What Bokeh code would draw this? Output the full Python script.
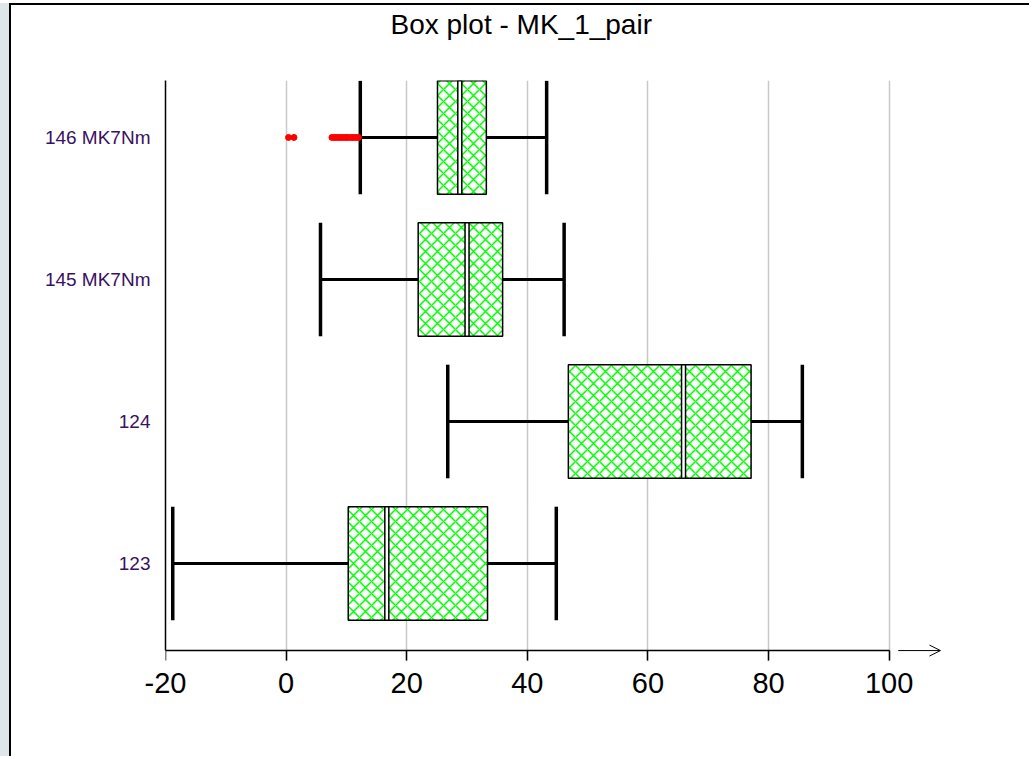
from bokeh.plotting import figure
from bokeh.models import FixedTicker, Arrow, OpenHead, ColumnDataSource, LinearAxis
from bokeh.embed import file_html
from bokeh.resources import INLINE

# ---- data ----
categories = ["123", "124", "145 MK7Nm", "146 MK7Nm"]
positions = [1, 2, 3, 4]
whisker_low = [-18.8, 26.8, 5.7, 12.3]
q1 = [10.3, 46.8, 21.9, 25.1]
median = [16.7, 65.9, 30.0, 28.8]
q3 = [33.4, 77.1, 35.9, 33.2]
whisker_high = [44.8, 85.6, 46.1, 43.2]
outlier_values = [0.4, 1.3, 7.6, 8.0, 8.3, 8.7, 9.0, 9.4, 9.8, 10.1, 10.5, 10.9, 11.2, 11.6, 12.0]
outlier_group = [4] * len(outlier_values)
x_ticks = [-20, 0, 20, 40, 60, 80, 100]
x_tick_labels = {t: str(t) for t in x_ticks}
title_text = "Box plot - MK_1_pair"

FONT = "Liberation Sans"
BOX_H = 0.8
Y_AXIS_POS = 0.387
Y_TOP = 4.401

src = ColumnDataSource(dict(
    pos=positions, lo=whisker_low, q1=q1, med=median, q3=q3, hi=whisker_high,
    cap_top=[p + BOX_H / 2 for p in positions],
    cap_bot=[p - BOX_H / 2 for p in positions],
))
out_src = ColumnDataSource(dict(x=outlier_values, y=outlier_group))

p = figure(width=1020, height=753, output_backend="svg", toolbar_location=None,
           x_range=(-20, 110), y_range=(0.31, Y_TOP),
           min_border_left=154, min_border_right=82, min_border_top=75,
           min_border_bottom=97, title=title_text)
p.outline_line_color = None
p.background_fill_color = "white"
p.border_fill_color = "white"

p.title.align = "left"
p.title.offset = 225
p.title.text_font = FONT
p.title.text_font_size = "28px"
p.title.text_font_style = "normal"
p.title.text_color = "black"
p.title.standoff = 0
p.title.padding = dict(left=0, right=0, top=0, bottom=41)

# whiskers
p.segment(x0="lo", y0="pos", x1="q1", y1="pos", source=src, line_color="black", line_width=3)
p.segment(x0="q3", y0="pos", x1="hi", y1="pos", source=src, line_color="black", line_width=3)
# caps
p.segment(x0="lo", y0="cap_bot", x1="lo", y1="cap_top", source=src, line_color="black", line_width=3.5)
p.segment(x0="hi", y0="cap_bot", x1="hi", y1="cap_top", source=src, line_color="black", line_width=3.5)
# boxes
p.hbar(y="pos", left="q1", right="q3", height=BOX_H, source=src,
       fill_color="white", line_color="black", line_width=1.5,
       hatch_pattern="diagonal_cross", hatch_color="#00ff00", hatch_scale=12, hatch_weight=1.5)
# medians
p.rect(x="med", y="pos", width=4, width_units="screen", height=BOX_H, source=src,
       fill_color="white", line_color="black", line_width=1.5)
# outliers
p.scatter(x="x", y="y", source=out_src, size=6, fill_color="red", line_color="red")

# x axis: labels (at the frame bottom)
xa = p.xaxis[0]
xa.ticker = FixedTicker(ticks=x_ticks)
xa.major_label_overrides = x_tick_labels
xa.axis_line_color = None
xa.major_tick_line_color = None
xa.minor_tick_line_color = None
xa.major_tick_out = 0
xa.major_tick_in = 0
xa.major_label_text_font = FONT
xa.major_label_text_font_size = "29px"
xa.major_label_text_color = "black"
xa.major_label_standoff = 11

# x axis: line and ticks (fixed at the axis position)
xl = LinearAxis(fixed_location=Y_AXIS_POS, ticker=FixedTicker(ticks=x_ticks),
                bounds=(-20, 100), axis_line_width=1.5, axis_line_color="black",
                major_tick_line_width=1.5, major_tick_line_color="black",
                major_tick_out=10, major_tick_in=0, minor_tick_line_color=None,
                major_label_text_font_size="0px", major_label_text_alpha=0)
p.add_layout(xl, "below")

ya = p.yaxis[0]
ya.ticker = FixedTicker(ticks=positions)
ya.major_label_overrides = {pos: c for pos, c in zip(positions, categories)}
ya.bounds = (Y_AXIS_POS, Y_TOP)
ya.axis_line_width = 1.5
ya.axis_line_color = "black"
ya.major_tick_line_color = None
ya.minor_tick_line_color = None
ya.major_label_text_font = FONT
ya.major_label_text_font_size = "19px"
ya.major_label_text_color = "#3a1060"
ya.major_label_standoff = 9

p.xgrid.ticker = FixedTicker(ticks=x_ticks[1:])
p.xgrid.grid_line_color = "#c8c8c8"
p.xgrid.grid_line_width = 1.5
p.ygrid.grid_line_color = None

# arrow at the end of the x axis
p.add_layout(Arrow(x_start=101.5, y_start=Y_AXIS_POS, x_end=108.5, y_end=Y_AXIS_POS,
                   line_color="black", line_width=1,
                   end=OpenHead(size=11, line_color="black", line_width=1)))

p.styles = {"border-top": "2px solid black", "border-left": "2px solid black",
            "margin-left": "9px", "margin-top": "3px",
            "box-shadow": "-9px 0 0 0 #dfe6ea"}

open("out.html", "w").write(file_html(p, INLINE))
